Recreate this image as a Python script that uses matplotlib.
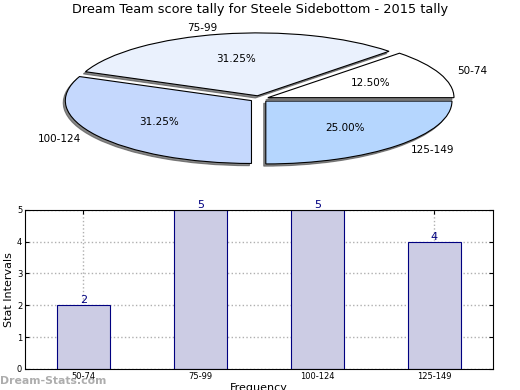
import matplotlib
matplotlib.use("Agg")
import matplotlib.pyplot as plt

categories = ["50-74", "75-99", "100-124", "125-149"]
counts = [2, 5, 5, 4]
pie_colors = ["#ffffff", "#eaf1fd", "#c5d8fd", "#b5d6fe"]
title = "Dream Team score tally for Steele Sidebottom - 2015 tally"

fig = plt.figure(figsize=(5.2, 3.9), dpi=100)

# Pie
axp = fig.add_axes([0.051, 0.545, 0.895, 0.403])
wedges, texts, autotexts = axp.pie(
    counts, labels=categories, colors=pie_colors, autopct="%1.2f%%",
    explode=[0.05] * 4, shadow=dict(ox=-0.008, oy=-0.025, color="#555555", alpha=0.7),
    startangle=0,
    wedgeprops=dict(edgecolor="black", linewidth=0.8),
    textprops=dict(fontsize=7.5))
axp.set_aspect("auto")
axp.set_xlim(-1.25, 1.25)
axp.set_ylim(-1.25, 1.25)
fig.text(0.5, 1 - 10 / 390, title, ha="center", va="center", fontsize=9.3)

# Bars
axb = fig.add_axes([0.048, 0.054, 0.9, 0.408])
x = list(range(len(categories)))
bars = axb.bar(x, counts, width=0.45, color="#ccccE4", edgecolor="#000080", linewidth=0.8, zorder=2)
for xi, c in zip(x, counts):
    axb.text(xi, c, str(c), ha="center", va="bottom", fontsize=8, color="#000080")
axb.set_xlim(-0.5, 3.5)
axb.set_ylim(0, 5)
axb.set_xticks(x)
axb.set_xticklabels(categories)
axb.set_yticks(range(6))
axb.tick_params(labelsize=6, direction="in", top=True, right=True, length=3, pad=2)
axb.grid(True, linestyle=":", color="#b0b0b0", linewidth=1, zorder=0)
axb.set_axisbelow(True)
axb.set_ylabel("Stat Intervals", fontsize=8, labelpad=2)
axb.set_xlabel("Frequency", fontsize=8, labelpad=2)
for s in axb.spines.values():
    s.set_linewidth(0.8)

fig.text(0.0, 1 - 381 / 390, "Dream-Stats.com", ha="left", va="center",
         fontsize=7.8, color="#999999", fontweight="bold", alpha=0.8)

fig.savefig("out.png", dpi=100)
